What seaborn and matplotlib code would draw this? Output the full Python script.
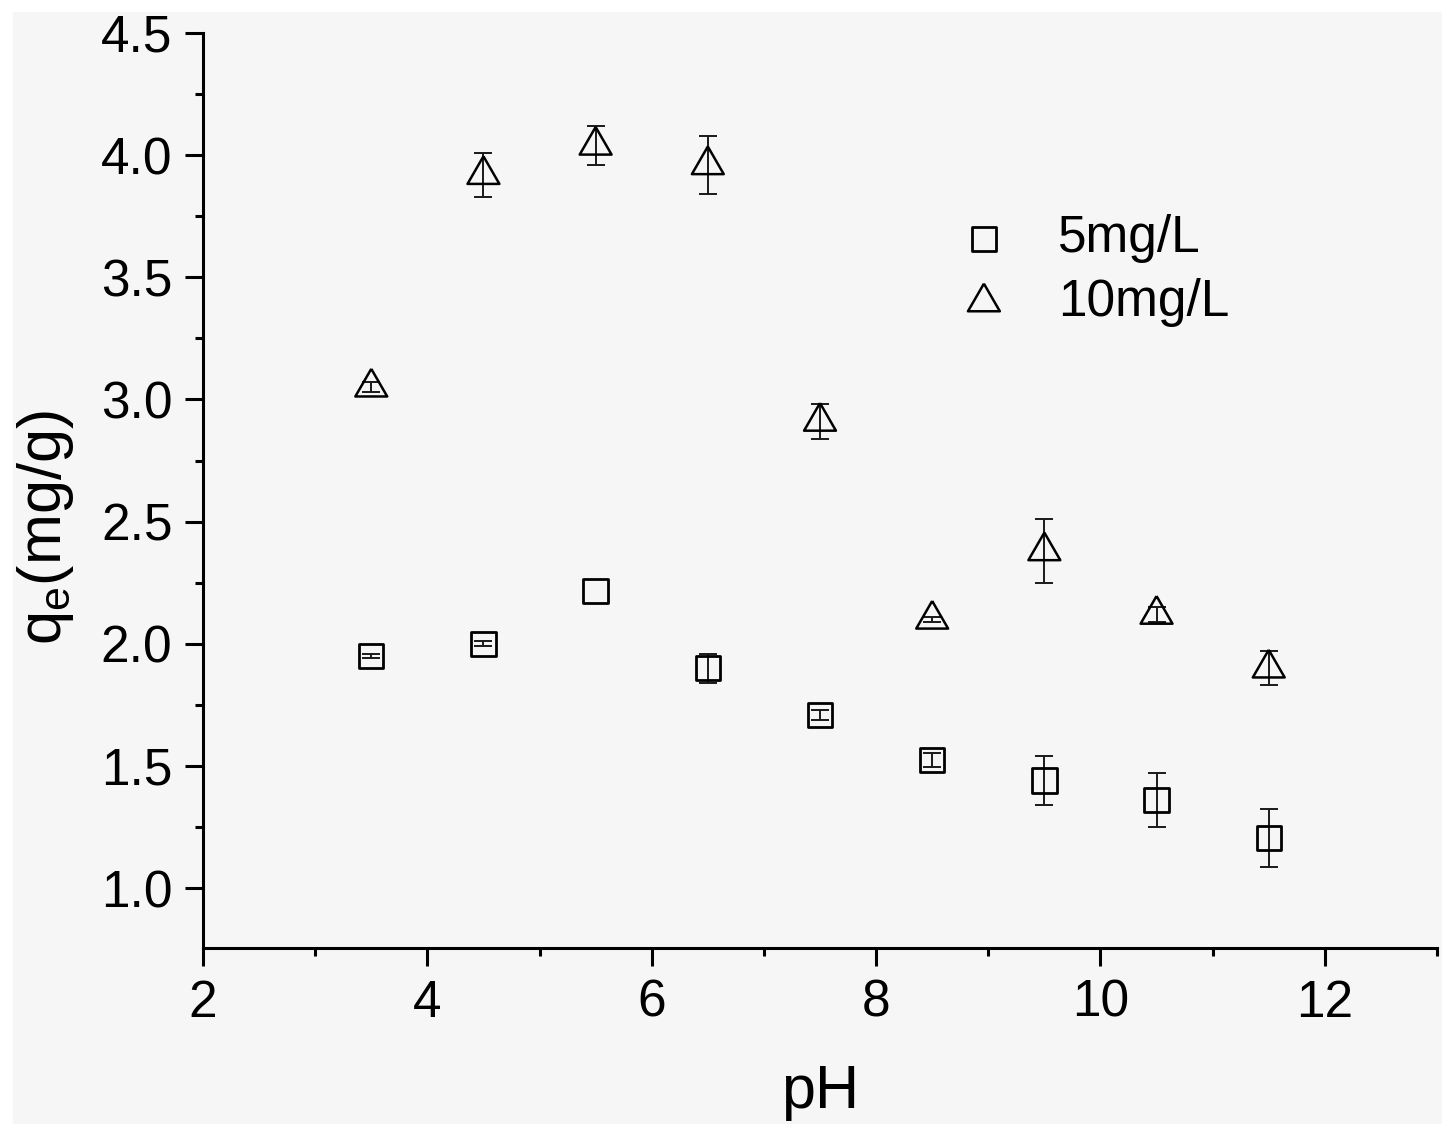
import numpy as np
import pandas as pd
import matplotlib
matplotlib.use("Agg")
import matplotlib.pyplot as plt
import matplotlib.patches as mpatches
import seaborn as sns

# ---- data ----
ph = [3.5, 4.5, 5.5, 6.5, 7.5, 8.5, 9.5, 10.5, 11.5]
q_5 = [1.95, 2.00, 2.215, 1.90, 1.71, 1.525, 1.44, 1.36, 1.205]
err_5 = [0.01, 0.01, 0.0, 0.06, 0.02, 0.03, 0.10, 0.11, 0.12]
q_10 = [3.05, 3.92, 4.04, 3.96, 2.91, 2.10, 2.38, 2.12, 1.90]
err_10 = [0.02, 0.09, 0.08, 0.12, 0.07, 0.01, 0.13, 0.03, 0.07]
labels = ["5mg/L", "10mg/L"]
x_ticks = [2, 4, 6, 8, 10, 12]
y_ticks = [1.0, 1.5, 2.0, 2.5, 3.0, 3.5, 4.0, 4.5]

sns.set_theme(style="ticks")
plt.rcParams["font.family"] = ["Liberation Sans", "DejaVu Sans"]
plt.rcParams["mathtext.default"] = "regular"

W, H = 1442, 1124
fig = plt.figure(figsize=(W / 100, H / 100), dpi=100, facecolor="white")
fig.patches.append(mpatches.Rectangle((13 / W, 0), 1 - 13 / W, 1 - 12 / H,
                                      transform=fig.transFigure, color="#f6f6f6",
                                      zorder=-10))
ax = fig.add_axes([203 / W, (H - 948) / H, (1437 - 203) / W, (948 - 33) / H])
ax.set_facecolor("none")

df5 = pd.DataFrame({"pH": ph, "q": q_5, "err": err_5})
df10 = pd.DataFrame({"pH": ph, "q": q_10, "err": err_10})

tri = [(0, 1), (-0.866, -0.5), (0.866, -0.5), (0, 1)]

for d in (df5, df10):
    dd = d[d["err"] > 0]
    ax.errorbar(dd["pH"], dd["q"], yerr=dd["err"], fmt="none", ecolor="#1a1a1a",
                elinewidth=1.4, capsize=6.6, capthick=1.4, zorder=3)

sns.scatterplot(data=df5, x="pH", y="q", marker="s", s=17.5 ** 2, facecolors="none",
                edgecolor="black", linewidth=2.0, ax=ax, zorder=4, label=labels[0])
sns.scatterplot(data=df10, x="pH", y="q", marker=tri, s=26.5 ** 2, facecolors="none",
                edgecolor="black", linewidth=1.8, ax=ax, zorder=4, label=labels[1])

ax.set_xlim(2, 13)
ax.set_ylim(0.755, 4.5)
ax.set_xticks(x_ticks)
ax.set_xticklabels([str(v) for v in x_ticks])
ax.set_yticks(y_ticks)
ax.set_yticklabels([f"{v:.1f}" for v in y_ticks])
ax.set_xticks(np.arange(3, 14, 2), minor=True)
ax.set_yticks(np.arange(1.25, 4.5, 0.5), minor=True)

for s in ["top", "right"]:
    ax.spines[s].set_visible(False)
for s in ["left", "bottom"]:
    ax.spines[s].set_linewidth(2.2)
    ax.spines[s].set_color("black")

ax.tick_params(which="major", direction="out", length=13, width=2.2, colors="black",
               labelsize=37, pad=9)
ax.tick_params(which="minor", direction="out", length=6, width=2.2, colors="black")

ax.set_xlabel("pH", fontsize=44, labelpad=26, color="black")
ax.set_ylabel("")
fig.text(45 / W, 1 - 528 / H, "q$_e$(mg/g)", rotation=90, ha="center", va="center",
         fontsize=44, color="black")

leg = ax.legend(loc="upper left", bbox_to_anchor=(0.612, 0.802), frameon=False,
                borderpad=0, borderaxespad=0, handlelength=1.0, handletextpad=0.95,
                labelspacing=0.28, fontsize=37, scatterpoints=1)
for t in leg.get_texts():
    t.set_color("black")

fig.savefig("out.png", dpi=100, facecolor=fig.get_facecolor())
